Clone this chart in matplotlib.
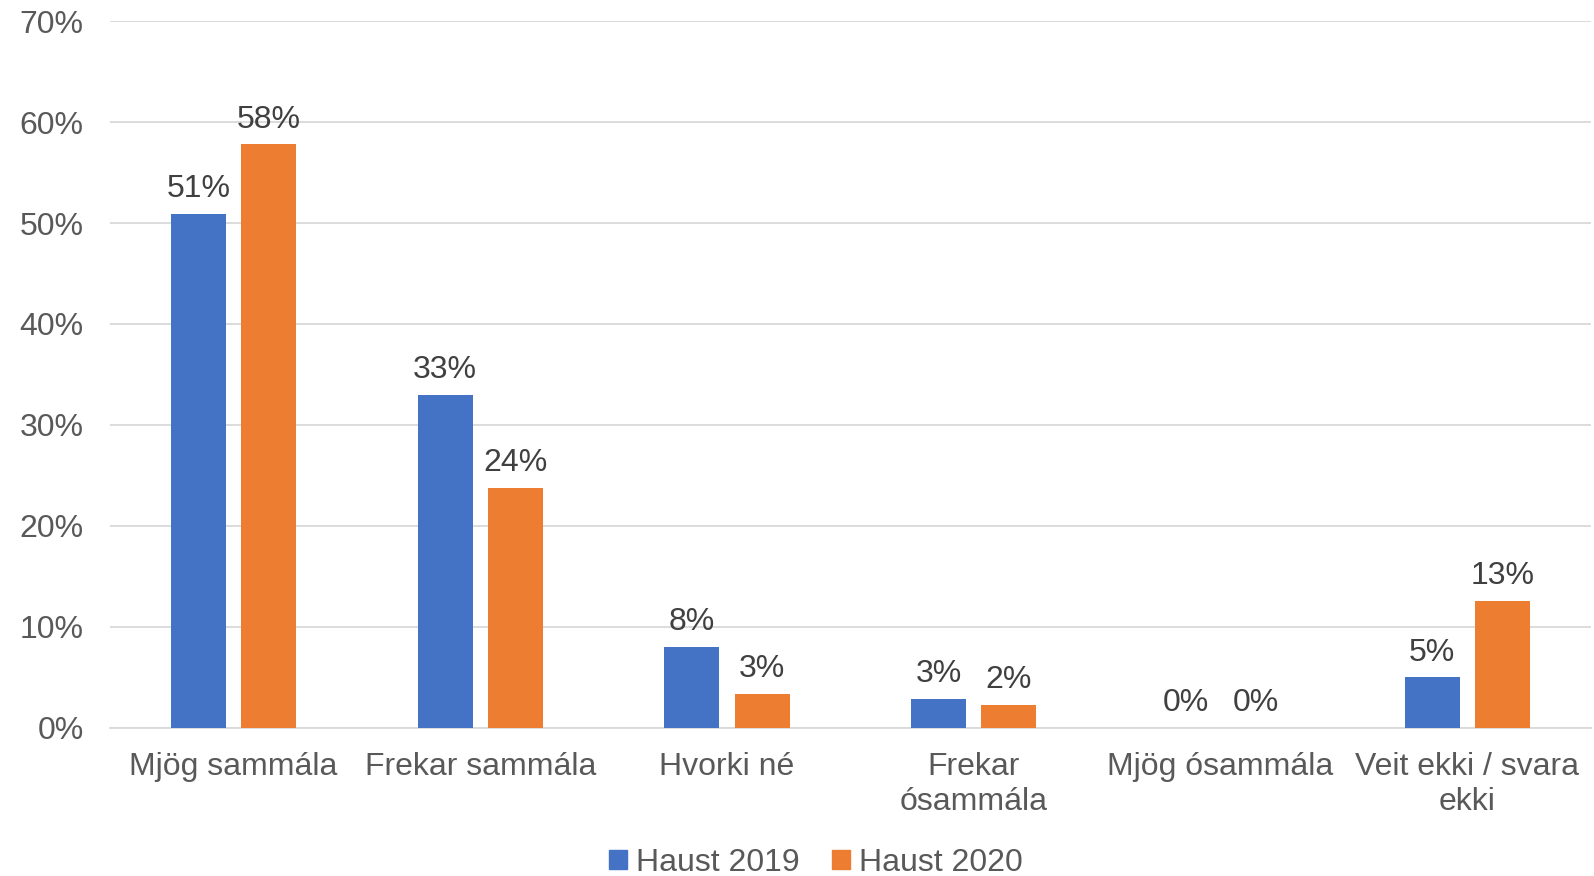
import numpy as np
import matplotlib.pyplot as plt
from matplotlib.ticker import PercentFormatter
from matplotlib.patches import Patch

plt.rcParams['font.family'] = ['Liberation Sans', 'DejaVu Sans']

flokkar = ['Mjög sammála', 'Frekar sammála', 'Hvorki né', 'Frekar\nósammála',
           'Mjög ósammála', 'Veit ekki / svara\nekki']
haust_2019 = [0.509, 0.330, 0.080, 0.029, 0.0, 0.050]
haust_2020 = [0.578, 0.238, 0.034, 0.023, 0.0, 0.126]
nofn = ['Haust 2019', 'Haust 2020']
litir = ['#4472C4', '#ED7D31']

fig = plt.figure(figsize=(15.94, 8.76), dpi=100)
ax = fig.add_axes([0.069, 0.169, 0.929, 0.807])

x = np.arange(len(flokkar))
w = 0.223
off = 0.142
for vals, name, c, d in zip([haust_2019, haust_2020], nofn, litir, [-off, off]):
    bars = ax.bar(x + d, vals, w, color=c, label=name, zorder=3)
    for b, v in zip(bars, vals):
        ax.annotate(f'{v:.0%}', (b.get_x() + b.get_width() / 2, v),
                    xytext=(0, 7), textcoords='offset points',
                    ha='center', va='bottom', fontsize=23, color='#404040')

ax.set_xlim(-0.5, len(flokkar) - 0.5)
ax.set_ylim(0, 0.7)
ax.set_yticks(np.arange(0, 0.71, 0.1))
ax.yaxis.set_major_formatter(PercentFormatter(1.0, decimals=0))
ax.set_xticks(x)
ax.set_xticklabels(flokkar, linespacing=1.25)
ax.grid(axis='y', color='#D9D9D9', lw=1.3, zorder=0)
for s in ['top', 'right', 'left']:
    ax.spines[s].set_visible(False)
ax.spines['bottom'].set_color('#D9D9D9')
ax.spines['bottom'].set_linewidth(1.3)
ax.tick_params(axis='both', length=0, labelsize=23, colors='#595959')
ax.tick_params(axis='x', pad=17)
ax.tick_params(axis='y', pad=19)

handles = [Patch(color=c) for c in litir]
leg = fig.legend(handles, nofn, loc='center', bbox_to_anchor=(0.512, 0.015),
                 ncol=2, frameon=False, fontsize=23, handlelength=0.55,
                 handleheight=0.55, handletextpad=0.3, columnspacing=1.0)
for t in leg.get_texts():
    t.set_color('#595959')

plt.savefig('out.png', dpi=100)
